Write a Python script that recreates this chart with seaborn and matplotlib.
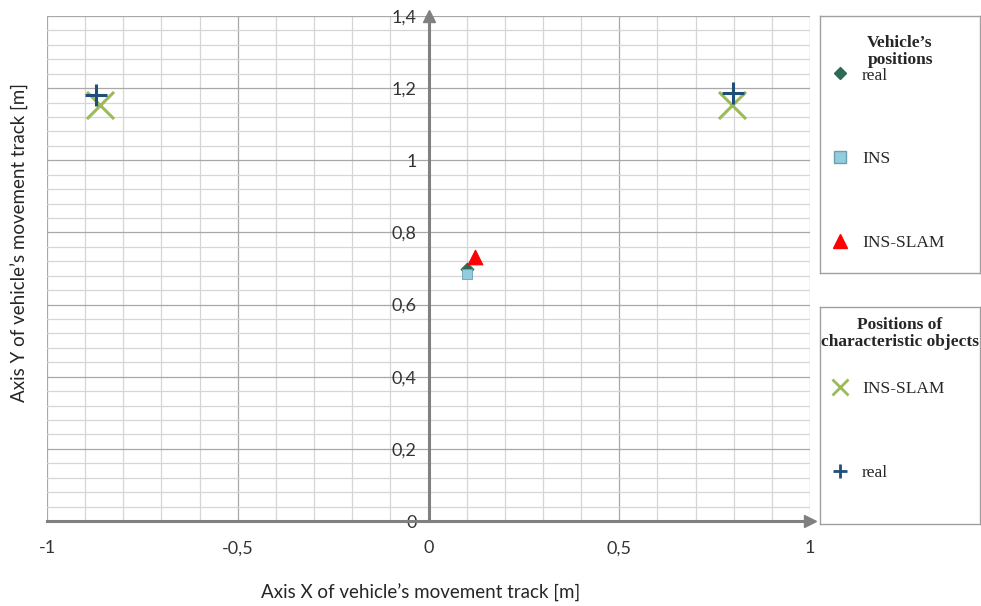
import numpy as np
import pandas as pd
import seaborn as sns
import matplotlib.pyplot as plt
from matplotlib.lines import Line2D
from matplotlib.ticker import MultipleLocator, FuncFormatter

# ----------------------------
# Data
# ----------------------------
veh_real_x = [0.10]
veh_real_y = [0.70]
veh_ins_x = [0.10]
veh_ins_y = [0.685]
veh_slam_x = [0.123]
veh_slam_y = [0.732]

obj_slam_x = [-0.86, 0.795]
obj_slam_y = [1.153, 1.153]
obj_real_x = [-0.871, 0.798]
obj_real_y = [1.18, 1.187]

x_ticks = [-1, -0.5, 0, 0.5, 1]
y_ticks = [0, 0.2, 0.4, 0.6, 0.8, 1.0, 1.2, 1.4]

sns.set_style("white")
plt.rcParams["font.family"] = ["Lato", "DejaVu Sans"]

fig = plt.figure(figsize=(9.81, 6.06), dpi=100)
ax = fig.add_axes([47 / 981, 85 / 606, 763 / 981, 505 / 606])

# vehicle positions
sns.scatterplot(x=veh_real_x, y=veh_real_y, marker="D", s=45, color="#2e6b55",
                edgecolor="#2e6b55", ax=ax, zorder=3)
sns.scatterplot(x=veh_ins_x, y=veh_ins_y, marker="s", s=55, color="#93cddd",
                edgecolor="#6b9fb3", linewidth=0.6, ax=ax, zorder=4)
sns.scatterplot(x=veh_slam_x, y=veh_slam_y, marker="^", s=110, color="#ff0000",
                edgecolor="#ff0000", ax=ax, zorder=5)
# characteristic objects
sns.scatterplot(x=obj_slam_x, y=obj_slam_y, marker="x", s=380, color="#9bbb59",
                linewidth=2.2, ax=ax, zorder=3)
sns.scatterplot(x=obj_real_x, y=obj_real_y, marker="+", s=260, color="#1f4e79",
                linewidth=2.2, ax=ax, zorder=4)

ax.set_xlim(-1, 1)
ax.set_ylim(0, 1.4)

# grid
ax.xaxis.set_major_locator(MultipleLocator(0.5))
ax.xaxis.set_minor_locator(MultipleLocator(0.1))
ax.yaxis.set_major_locator(MultipleLocator(0.2))
ax.yaxis.set_minor_locator(MultipleLocator(0.04))
ax.grid(which="major", color="#a8a8a8", linewidth=0.9)
ax.grid(which="minor", color="#d6d6d6", linewidth=0.9)
ax.set_axisbelow(True)

# axes through origin with arrows
for side in ["top", "right"]:
    ax.spines[side].set_visible(False)
ax.spines["left"].set_position(("data", 0))
ax.spines["bottom"].set_position(("data", 0))
for side in ["left", "bottom"]:
    ax.spines[side].set_color("#808080")
    ax.spines[side].set_linewidth(2.2)
ax.plot(1, 0, ">", color="#808080", markersize=9, transform=ax.get_yaxis_transform(),
        clip_on=False, zorder=6)
ax.plot(0, 1, "^", color="#808080", markersize=9, transform=ax.get_xaxis_transform(),
        clip_on=False, zorder=6)

fmt = FuncFormatter(lambda v, p: f"{v:g}".replace(".", ","))
ax.set_xticks(x_ticks)
ax.set_yticks(y_ticks)
ax.xaxis.set_major_formatter(fmt)
ax.yaxis.set_major_formatter(fmt)
ax.tick_params(which="major", length=5, width=1, color="#808080", labelsize=13,
               labelcolor="#333333")
ax.tick_params(axis="x", which="major", pad=9)
ax.tick_params(which="minor", length=0)

ax.set_xlabel("Axis X of vehicle\u2019s movement track [m]", fontsize=13.5)
ax.xaxis.set_label_coords(0.49, -0.125)
ax.set_ylabel("Axis Y of vehicle\u2019s movement track [m]", fontsize=13.5)
ax.yaxis.set_label_coords(-0.023, 0.552)

# ----------------------------
# Legends in boxed panels
# ----------------------------
serif = {"family": "Liberation Serif", "size": 12.5}


def legend_box(rect, handles, labels, title, title_y, entry_y):
    lax = fig.add_axes(rect)
    lax.set_xticks([])
    lax.set_yticks([])
    for sp in lax.spines.values():
        sp.set_color("#a0a0a0")
        sp.set_linewidth(1)
    lax.text(0.5, title_y, title, transform=lax.transAxes, ha="center", va="center",
             family="Liberation Serif", fontsize=12.5, fontweight="bold", linespacing=1.12)
    lax.legend(handles, labels, loc="upper left", frameon=False, prop=serif,
               labelspacing=3.9, handletextpad=0.66, handlelength=1.2,
               borderaxespad=0, borderpad=0, bbox_to_anchor=(0.06, entry_y))
    return lax


h1 = [
    Line2D([], [], ls="", marker="D", color="#2e6b55", markersize=6),
    Line2D([], [], ls="", marker="s", color="#93cddd", markeredgecolor="#6b9fb3", markersize=9),
    Line2D([], [], ls="", marker="^", color="#ff0000", markersize=10),
]
legend_box([820 / 981, 333 / 606, 160 / 981, 257 / 606], h1, ["real", "INS", "INS-SLAM"],
           "Vehicle\u2019s\npositions", 0.862, 0.80)

h2 = [
    Line2D([], [], ls="", marker="x", color="#9bbb59", markersize=11, markeredgewidth=2),
    Line2D([], [], ls="", marker="+", color="#1f4e79", markersize=10, markeredgewidth=2),
]
legend_box([820 / 981, 82 / 606, 160 / 981, 217 / 606], h2, ["INS-SLAM", "real"],
           "Positions of\ncharacteristic objects", 0.878, 0.66)

fig.savefig("out.png", dpi=100)
